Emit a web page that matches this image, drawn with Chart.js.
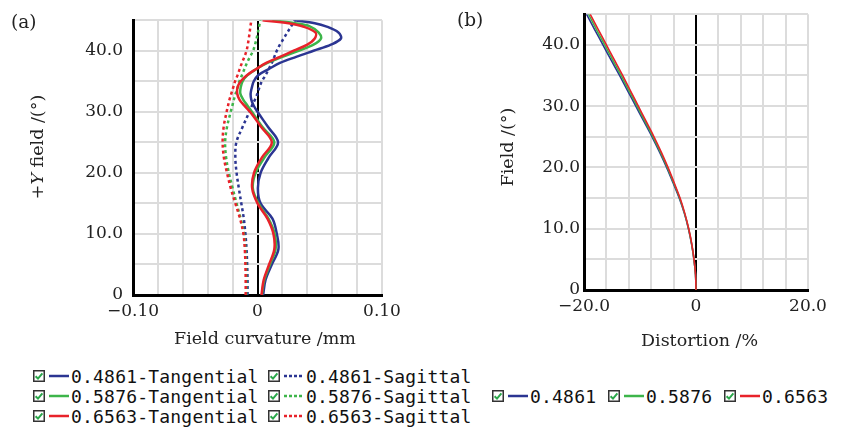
<!DOCTYPE html>
<html>
<head>
<meta charset="utf-8">
<script src="https://cdn.jsdelivr.net/npm/chart.js@4.4.1/dist/chart.umd.min.js"></script>
<style>
  body { margin: 0; background: #fff; width: 841px; height: 430px; overflow: hidden; position: relative; font-family: "DejaVu Serif", serif; color: #222; }
  canvas { position: absolute; top: 0; }
  .lbl { position: absolute; font-size: 17.5px; white-space: nowrap; line-height: 1; }
  .ytitle { transform: translate(-50%, -50%) rotate(-90deg); }
  .legend { position: absolute; font-family: "DejaVu Sans Mono", monospace; font-size: 18px; letter-spacing: 0.2px; color: #111; white-space: nowrap; }
  .item { position: absolute; display: flex; align-items: center; height: 20px; }
  .item svg { display: block; }
</style>
</head>
<body>
<canvas id="curv" width="420" height="360" style="left:0"></canvas>
<canvas id="dist" width="411" height="360" style="left:430px"></canvas>

<div class="lbl" style="left:11px;top:13px;font-size:18.5px">(a)</div>
<div class="lbl" style="left:457px;top:11px;font-size:18.5px">(b)</div>
<div class="lbl ytitle" style="left:38px;top:147px">+<i>Y</i> field /(°)</div>
<div class="lbl ytitle" style="left:508px;top:147px">Field /(°)</div>
<div class="lbl" style="left:174px;top:330px">Field curvature /mm</div>
<div class="lbl" style="left:641px;top:332px">Distortion /%</div>

<div id="legendA" class="legend"></div>
<div id="legendB" class="legend"></div>

<script>
// wavelengths (um)
const waves = ["0.4861", "0.5876", "0.6563"];
const colors = ["#2b3592", "#3db54a", "#e8222a"];

// field angles (deg) used for the field curvature plot
const fieldA = [0, 2.5, 5, 7.5, 10, 12.5, 15, 17.5, 20, 22.5, 25, 27.5, 30, 31, 32, 33, 34, 35, 36, 37, 38, 39, 40, 41, 42, 43, 44, 44.5, 45];

// tangential field curvature (mm)
const tan4861 = [0.0045, 0.0065, 0.0115, 0.0168, 0.0155, 0.012, 0.0025, 0.0003, 0.0025, 0.009, 0.0165, 0.0085, 0.0, -0.003, -0.005, -0.0055, -0.0045, -0.003, 0.0005, 0.009, 0.018, 0.031, 0.045, 0.059, 0.067, 0.065, 0.055, 0.046, 0.030];
const tan5876 = [0.0035, 0.0055, 0.010, 0.0145, 0.0138, 0.0088, 0.0008, -0.0038, -0.0015, 0.0055, 0.0135, 0.004, -0.0045, -0.008, -0.0115, -0.0138, -0.0135, -0.012, -0.008, -0.001, 0.008, 0.020, 0.033, 0.045, 0.051, 0.049, 0.042, 0.030, 0.012];
const tan6563 = [0.0032, 0.005, 0.0093, 0.0135, 0.0128, 0.008, 0.0, -0.0043, -0.0028, 0.0035, 0.0115, 0.003, -0.006, -0.0105, -0.0145, -0.0163, -0.016, -0.0135, -0.0085, -0.001, 0.007, 0.018, 0.029, 0.040, 0.046, 0.0465, 0.036, 0.025, 0.004];

// sagittal field curvature (mm)
const sag4861 = [-0.008, -0.008, -0.0083, -0.0088, -0.0097, -0.011, -0.013, -0.015, -0.0168, -0.0178, -0.017, -0.012, -0.0065, -0.0045, -0.002, 0.0, 0.0015, 0.0035, 0.0065, 0.009, 0.0115, 0.0135, 0.0155, 0.018, 0.021, 0.024, 0.027, 0.0285, 0.030];
const sag5876 = [-0.009, -0.009, -0.0092, -0.0097, -0.0108, -0.0135, -0.0168, -0.020, -0.023, -0.0252, -0.026, -0.0245, -0.0215, -0.0202, -0.019, -0.0175, -0.016, -0.0145, -0.0125, -0.0105, -0.0085, -0.006, -0.0035, -0.002, -0.0007, 0.0003, 0.0013, 0.0018, 0.0024];
const sag6563 = [-0.0095, -0.0095, -0.0097, -0.0102, -0.0113, -0.014, -0.0178, -0.0215, -0.0245, -0.027, -0.028, -0.0272, -0.0248, -0.0237, -0.0225, -0.021, -0.0195, -0.018, -0.016, -0.0143, -0.0125, -0.0105, -0.0088, -0.0078, -0.007, -0.0063, -0.0057, -0.0053, -0.005];

// field angles (deg) and distortion (%)
const fieldB = [0, 2.5, 5, 7.5, 10, 12.5, 15, 17.5, 20, 22.5, 25, 27.5, 30, 32.5, 35, 37.5, 40, 42.5, 45];
const dist4861 = [0, -0.08, -0.37, -0.79, -1.35, -2.08, -3.0, -4.1, -5.25, -6.5, -7.85, -9.3, -10.75, -12.2, -13.65, -15.15, -16.62, -18.1, -19.55];
const dist5876 = [0, -0.08, -0.36, -0.77, -1.32, -2.04, -2.92, -4.0, -5.12, -6.35, -7.68, -9.1, -10.52, -11.95, -13.38, -14.85, -16.3, -17.78, -19.2];
const dist6563 = [0, -0.08, -0.35, -0.75, -1.3, -2.0, -2.85, -3.9, -5.0, -6.2, -7.5, -8.9, -10.3, -11.7, -13.1, -14.55, -16.0, -17.45, -18.9];

const near = (a, b) => Math.abs(a - b) < 1e-9;
const pts = (xs, fields) => xs.map((x, i) => ({ x, y: fields[i] }));

function line(data, color, order, width, dash) {
  return {
    data, borderColor: color, borderWidth: width, borderDash: dash || [],
    pointRadius: 0, showLine: true, tension: 0.35, order, fill: false
  };
}

const tickFont = { family: "DejaVu Serif", size: 17 };

function scales(xMin, xMax, xStep, xLabel, xH, yW, yPad) {
  return {
    x: {
      type: "linear", min: xMin, max: xMax,
      afterFit: (s) => { s.height = xH; },
      ticks: { stepSize: xStep, autoSkip: false, maxRotation: 0, padding: 6, color: "#222", font: tickFont, callback: xLabel },
      grid: {
        drawTicks: false,
        color: (c) => near(c.tick.value, 0) ? "#000" : "#dcdcdc",
        lineWidth: 2
      },
      border: { color: "#000", width: 3 }
    },
    y: {
      type: "linear", min: 0, max: 45,
      afterFit: (s) => { s.width = yW; },
      ticks: {
        stepSize: 5, autoSkip: false, padding: yPad, color: "#222", font: tickFont,
        callback: (v) => v === 0 ? "0" : (v % 10 === 0 ? v.toFixed(1) : "")
      },
      grid: { drawTicks: false, color: "#dcdcdc", lineWidth: 2 },
      border: { color: "#000", width: 3 }
    }
  };
}

const common = {
  responsive: false,
  animation: false,
  plugins: { legend: { display: false }, tooltip: { enabled: false } }
};

new Chart(document.getElementById("curv"), {
  type: "scatter",
  data: {
    datasets: [
      line(pts(tan4861, fieldA), colors[0], 2, 2.5),
      line(pts(tan5876, fieldA), colors[1], 1, 2.5),
      line(pts(tan6563, fieldA), colors[2], 0, 2.5),
      line(pts(sag4861, fieldA), colors[0], 5, 2.5, [3, 3]),
      line(pts(sag5876, fieldA), colors[1], 4, 2.5, [3, 3]),
      line(pts(sag6563, fieldA), colors[2], 3, 2.5, [3, 3])
    ]
  },
  options: {
    ...common,
    layout: { padding: { top: 13, right: 38, left: 0, bottom: 0 } },
    scales: scales(-0.1, 0.1, 0.02, (v) => near(v, -0.1) ? "\u22120.10" : near(v, 0) ? "0" : near(v, 0.1) ? "0.10" : "", 65, 133, 10)
  }
});

new Chart(document.getElementById("dist"), {
  type: "scatter",
  data: {
    datasets: [
      line(pts(dist4861, fieldB), colors[0], 2, 1.6),
      line(pts(dist5876, fieldB), colors[1], 1, 1.6),
      line(pts(dist6563, fieldB), colors[2], 0, 1.6)
    ]
  },
  options: {
    ...common,
    layout: { padding: { top: 14, right: 33, left: 0, bottom: 0 } },
    scales: scales(-20, 20, 4, (v) => near(v, -20) ? "\u221220.0" : near(v, 0) ? "0" : near(v, 20) ? "20.0" : "", 70, 154, 4)
  }
});

// legends
const check = '<svg width="12" height="12"><rect x="0.75" y="0.75" width="10.5" height="10.5" fill="#fff" stroke="#333" stroke-width="1.5"/><path d="M2.6 6.2 L5 8.6 L9.4 3.4" fill="none" stroke="#2aa84a" stroke-width="2"/></svg>';
const swatch = (color, dotted) => `<svg width="20" height="4" style="margin:0 2px 0 4px"><line x1="0" y1="2" x2="20" y2="2" stroke="${color}" stroke-width="2.5" ${dotted ? 'stroke-dasharray="3,2"' : ""}/></svg>`;

function item(left, top, color, dotted, text) {
  return `<div class="item" style="left:${left}px;top:${top}px">${check}${swatch(color, dotted)}<span>${text}</span></div>`;
}

const rowsA = [366, 386, 406];
document.getElementById("legendA").innerHTML = waves.map((w, i) =>
  item(33, rowsA[i], colors[i], false, `${w}-Tangential`) +
  item(268, rowsA[i], colors[i], true, `${w}-Sagittal`)
).join("");

const colsB = [492, 608, 724];
document.getElementById("legendB").innerHTML = waves.map((w, i) =>
  item(colsB[i], 386, colors[i], false, w)
).join("");
</script>
</body>
</html>
